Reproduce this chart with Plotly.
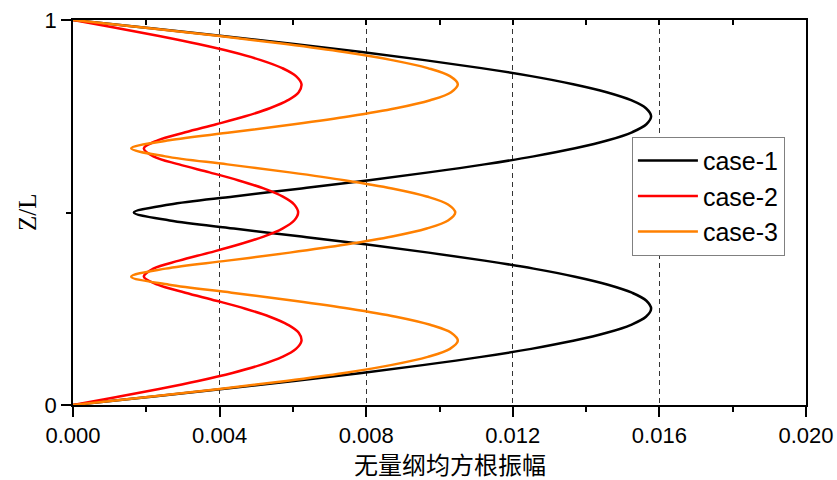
import plotly.graph_objects as go

# Z/L positions (rows)
z = [0, 0.0208, 0.0417, 0.0625, 0.0833, 0.1042, 0.125, 0.1458, 0.1667, 0.1875,
     0.2083, 0.2292, 0.25, 0.2708, 0.2917, 0.3125, 0.3333, 0.3542, 0.375, 0.3958,
     0.4167, 0.4375, 0.4583, 0.4792, 0.5, 0.5208, 0.5417, 0.5625, 0.5833, 0.6042,
     0.625, 0.6458, 0.6667, 0.6875, 0.7083, 0.7292, 0.75, 0.7708, 0.7917, 0.8125,
     0.8333, 0.8542, 0.875, 0.8958, 0.9167, 0.9375, 0.9583, 0.9792, 1.0]

# RMS amplitude (x 1e-3)
case1 = [0, 2.056, 4.077, 6.029, 7.877, 9.591, 11.141, 12.502, 13.648, 14.562,
         15.228, 15.633, 15.774, 15.645, 15.251, 14.598, 13.699, 12.569, 11.228, 9.704,
         8.027, 6.236, 4.391, 2.638, 1.66, 2.638, 4.391, 6.236, 8.027, 9.704,
         11.228, 12.569, 13.699, 14.598, 15.251, 15.645, 15.774, 15.633, 15.228, 14.562,
         13.648, 12.502, 11.141, 9.591, 7.877, 6.029, 4.077, 2.056, 0]

case2 = [0, 1.197, 2.349, 3.414, 4.351, 5.125, 5.710, 6.084, 6.234, 6.159,
         5.865, 5.369, 4.702, 3.909, 3.065, 2.311, 1.933, 2.193, 2.895, 3.725,
         4.521, 5.200, 5.715, 6.035, 6.143, 6.035, 5.715, 5.200, 4.521, 3.725,
         2.895, 2.193, 1.933, 2.311, 3.065, 3.909, 4.702, 5.369, 5.865, 6.159,
         6.234, 6.084, 5.710, 5.125, 4.351, 3.414, 2.349, 1.197, 0]

case3 = [0, 2.040, 4.002, 5.812, 7.399, 8.705, 9.679, 10.285, 10.500, 10.318,
         9.746, 8.811, 7.553, 6.031, 4.330, 2.621, 1.588, 2.521, 4.214, 5.914,
         7.441, 8.706, 9.650, 10.233, 10.430, 10.233, 9.650, 8.706, 7.441, 5.914,
         4.214, 2.521, 1.588, 2.621, 4.330, 6.031, 7.553, 8.811, 9.746, 10.318,
         10.500, 10.285, 9.679, 8.705, 7.399, 5.812, 4.002, 2.040, 0]

names = ["case-1", "case-2", "case-3"]
colors = ["#000000", "#FF0000", "#FF8000"]
series = [case1, case2, case3]

x_title = "无量纲均方根振幅"
y_title = "Z/L"

fig = go.Figure()
for nm, col, vals in zip(names, colors, series):
    fig.add_trace(go.Scatter(
        x=[v / 1000 for v in vals], y=z, mode="lines", name=nm,
        line=dict(color=col, width=2.5, shape="spline", smoothing=1.0),
    ))

# empty trace to host top axis with inward ticks
fig.add_trace(go.Scatter(x=[], y=[], xaxis="x2", yaxis="y", showlegend=False,
                         hoverinfo="skip"))

tickfont = dict(family="Liberation Sans, Arial", size=22, color="black")

fig.update_layout(
    width=837, height=480,
    margin=dict(l=73, r=31, t=20, b=75, autoexpand=False),
    paper_bgcolor="white", plot_bgcolor="white",
    showlegend=True,
    xaxis=dict(
        range=[0, 0.020], dtick=0.004, tick0=0, tickformat=".3f",
        ticks="outside", ticklen=10, tickwidth=1.5, tickcolor="black",
        showline=True, linecolor="black", linewidth=1.8, mirror=True,
        showgrid=True, gridcolor="#333333", gridwidth=1, griddash="5px,4px",
        zeroline=False, tickfont=tickfont, automargin=False,
        minor=dict(dtick=0.002, tick0=0, ticks="outside", ticklen=5,
                   tickwidth=1.5, tickcolor="black", showgrid=False),
    ),
    xaxis2=dict(
        overlaying="x", side="top", matches="x", range=[0, 0.020],
        tickvals=[0.002, 0.004, 0.006, 0.008, 0.010, 0.012, 0.014, 0.016, 0.018],
        ticks="inside", ticklen=5, tickwidth=1.5, tickcolor="black",
        showticklabels=False, showgrid=False, showline=False, zeroline=False,
        automargin=False,
    ),
    yaxis=dict(
        range=[0, 1], dtick=1, tick0=0,
        ticks="outside", ticklen=10, tickwidth=1.5, tickcolor="black",
        showline=True, linecolor="black", linewidth=1.8, mirror=True,
        showgrid=False, zeroline=False, tickfont=tickfont, automargin=False,
        minor=dict(dtick=0.5, tick0=0, ticks="outside", ticklen=5,
                   tickwidth=1.5, tickcolor="black", showgrid=False),
    ),
    legend=dict(
        x=0.7625, y=0.697, xanchor="left", yanchor="top",
        bgcolor="white", bordercolor="#808080", borderwidth=1,
        font=dict(family="Liberation Sans, Arial", size=25, color="black"),
        itemwidth=60, tracegroupgap=0,
    ),
    annotations=[
        dict(text=x_title, xref="paper", yref="paper", x=0.5137, y=-0.152,
             xanchor="center", yanchor="middle", showarrow=False,
             font=dict(family="Noto Sans CJK SC", size=24, color="black")),
        dict(text=y_title, xref="paper", yref="paper", x=-0.062, y=0.5,
             xanchor="center", yanchor="middle", showarrow=False, textangle=-90,
             font=dict(family="Liberation Serif, Times New Roman", size=25, color="black")),
    ],
)

fig.write_html("out.html")
